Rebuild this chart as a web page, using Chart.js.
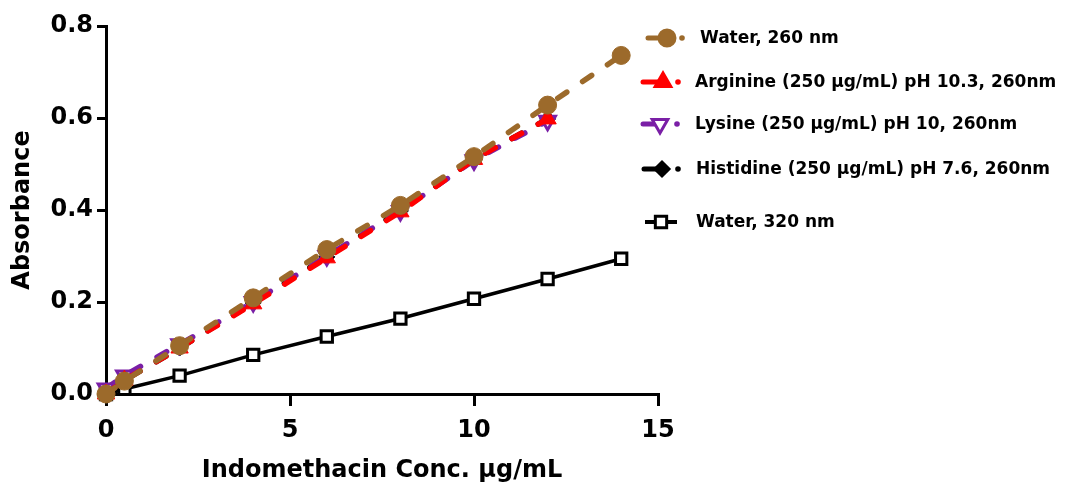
<!DOCTYPE html>
<html>
<head>
<meta charset="utf-8">
<script src="https://cdn.jsdelivr.net/npm/chart.js@4.4.1/dist/chart.umd.min.js"></script>
<style>
  html, body { margin: 0; padding: 0; background: #fff; }
  #wrap { width: 1070px; height: 491px; position: relative; }
</style>
</head>
<body>
<div id="wrap"><canvas id="graphCanvas"></canvas></div>
<script>
// data
const conc = [0, 0.5, 2, 4, 6, 8, 10, 12, 14];
const water260 = [0, 0.028, 0.105, 0.209, 0.314, 0.41, 0.516, 0.628, 0.736];
const arginine = [0, 0.03, 0.1, 0.196, 0.296, 0.396, 0.51, 0.598];
const lysine = [0.012, 0.04, 0.108, 0.2, 0.3, 0.398, 0.508, 0.594];
const histidine = [0, 0.03, 0.1, 0.198, 0.298, 0.398, 0.51, 0.598];
const water320 = [0, 0.011, 0.04, 0.085, 0.125, 0.164, 0.207, 0.25, 0.294];

const seriesNames = [
  'Water, 260 nm',
  'Arginine (250 µg/mL) pH 10.3, 260nm',
  'Lysine (250 µg/mL) pH 10, 260nm',
  'Histidine (250 µg/mL) pH 7.6, 260nm',
  'Water, 320 nm'
];
const xTicks = [0, 5, 10, 15];
const yTicks = [0, 0.2, 0.4, 0.6, 0.8];

const BROWN = '#9C6A2B';
const RED = '#FF0000';
const PURPLE = '#7A1FA6';
const FONT = "'DejaVu Sans', 'Liberation Sans', Arial, sans-serif";

function pts(vals) {
  return vals.map((v, i) => ({ x: conc[i], y: v }));
}

Chart.defaults.font.family = FONT;
Chart.defaults.color = '#000';

// legend drawn by hand so the line + marker + dot look like the original
const legendItems = [
  { y: 38, x0: 648, mx: 667, dot: 682, tx: 700, color: BROWN, style: 'circle', r: 8, fill: BROWN, dashed: true },
  { y: 82, x0: 643, mx: 663, dot: 678, tx: 695, color: RED, style: 'triangle', r: 9, fill: RED, dashed: true },
  { y: 124, x0: 643, mx: 660, dot: 677, tx: 695, color: PURPLE, style: 'triangle', r: 9, fill: '#fff', rot: 180, dashed: true },
  { y: 169, x0: 644, mx: 662, dot: 678, tx: 696, color: '#000', style: 'rectRot', r: 7, fill: '#000', dashed: true },
  { y: 222, x0: 645, mx: 661, dot: 677, tx: 696, color: '#000', style: 'rect', r: 8, fill: '#fff', dashed: false }
];

const legendPlugin = {
  id: 'handLegend',
  afterDraw(chart) {
    const ctx = chart.ctx;
    ctx.save();
    legendItems.forEach((it, i) => {
      ctx.strokeStyle = it.color;
      ctx.lineWidth = 5;
      ctx.lineCap = 'round';
      ctx.beginPath();
      if (it.dashed) {
        ctx.moveTo(it.x0, it.y);
        ctx.lineTo(it.mx, it.y);
        ctx.stroke();
        ctx.beginPath();
        ctx.fillStyle = it.color;
        ctx.arc(it.dot, it.y, 2.8, 0, Math.PI * 2);
        ctx.fill();
      } else {
        ctx.lineWidth = 4;
        ctx.lineCap = 'butt';
        ctx.moveTo(it.x0, it.y);
        ctx.lineTo(it.dot, it.y);
        ctx.stroke();
      }
      ctx.fillStyle = it.fill;
      ctx.strokeStyle = it.color;
      ctx.lineWidth = 3;
      Chart.helpers.drawPoint(ctx, { pointStyle: it.style, radius: it.r, rotation: it.rot || 0, borderWidth: 3 }, it.mx, it.y);
      ctx.fillStyle = '#000';
      ctx.font = 'bold 17px ' + FONT;
      ctx.textBaseline = 'middle';
      ctx.textAlign = 'left';
      ctx.fillText(seriesNames[i], it.tx, it.y + 1);
    });
    ctx.restore();
  }
};

const dashed = { borderWidth: 5.5, borderDash: [11, 19], borderCapStyle: 'round', clip: false, fill: false, tension: 0 };

new Chart(document.getElementById('graphCanvas'), {
  type: 'scatter',
  data: {
    datasets: [
      Object.assign({ label: seriesNames[0], data: pts(water260), showLine: true, borderColor: BROWN,
        pointStyle: 'circle', pointRadius: 9, pointBackgroundColor: BROWN, pointBorderColor: BROWN, pointBorderWidth: 1 }, dashed),
      Object.assign({ label: seriesNames[1], data: pts(arginine), showLine: true, borderColor: RED,
        pointStyle: 'triangle', pointRadius: 10, pointBackgroundColor: RED, pointBorderColor: RED, pointBorderWidth: 1 }, dashed),
      Object.assign({ label: seriesNames[2], data: pts(lysine), showLine: true, borderColor: PURPLE,
        pointStyle: 'triangle', pointRotation: 180, pointRadius: 9, pointBackgroundColor: '#fff', pointBorderColor: PURPLE, pointBorderWidth: 3 }, dashed),
      Object.assign({ label: seriesNames[3], data: pts(histidine), showLine: true, borderColor: '#000',
        pointStyle: 'rectRot', pointRadius: 8, pointBackgroundColor: '#000', pointBorderColor: '#000', pointBorderWidth: 1 }, dashed),
      { label: seriesNames[4], data: pts(water320), showLine: true, borderColor: '#000', borderWidth: 3.5, clip: false,
        pointStyle: 'rect', pointRadius: 8, pointBackgroundColor: '#fff', pointBorderColor: '#000', pointBorderWidth: 3 }
    ]
  },
  options: {
    responsive: true,
    maintainAspectRatio: false,
    animation: false,
    layout: { padding: { left: 0, right: 412, top: 26, bottom: 0 } },
    plugins: { legend: { display: false }, tooltip: { enabled: false } },
    scales: {
      x: {
        type: 'linear', min: 0, max: 15,
        afterBuildTicks: (axis) => { axis.ticks = xTicks.map(v => ({ value: v })); },
        afterFit: (axis) => { axis.height = 97; },
        grid: { drawOnChartArea: false, drawTicks: true, tickLength: 12, lineWidth: 3, color: '#000' },
        border: { display: true, color: '#000', width: 3 },
        ticks: { font: { size: 24, weight: 'bold' }, padding: 10, color: '#000' },
        title: { display: true, text: 'Indomethacin Conc. µg/mL', font: { size: 24, weight: 'bold' }, padding: { top: 4, bottom: 6 }, color: '#000' }
      },
      y: {
        type: 'linear', min: 0, max: 0.8,
        afterBuildTicks: (axis) => { axis.ticks = yTicks.map(v => ({ value: v })); },
        afterFit: (axis) => { axis.width = 106; },
        grid: { drawOnChartArea: false, drawTicks: true, tickLength: 9, lineWidth: 3, color: '#000' },
        border: { display: true, color: '#000', width: 3 },
        ticks: { font: { size: 24, weight: 'bold' }, padding: 4, color: '#000', callback: (v) => v.toFixed(1) },
        title: { display: true, text: 'Absorbance', font: { size: 24, weight: 'bold' }, padding: { top: 8, bottom: 6 }, color: '#000' }
      }
    }
  },
  plugins: [legendPlugin]
});
</script>
</body>
</html>
